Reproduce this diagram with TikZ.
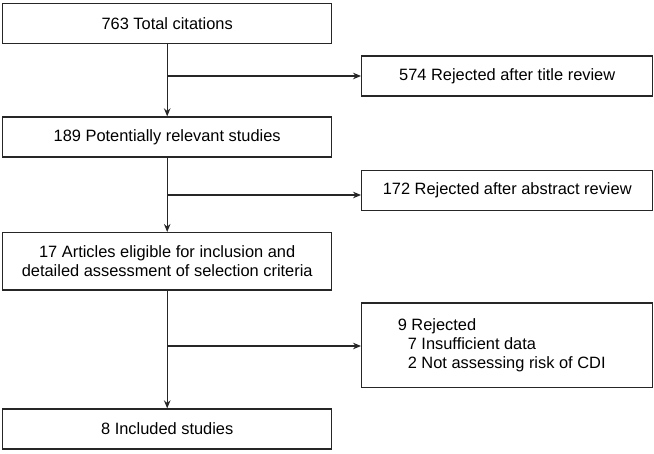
\documentclass[tikz,border=0pt]{standalone}
\usepackage{fontspec}
\setmainfont{Liberation Sans}
\usetikzlibrary{arrows.meta}
\begin{document}
\begin{tikzpicture}[x=1pt,y=-1pt,
  box/.style={draw=black!85,line width=1.3pt,inner sep=0pt,font=\fontsize{16.4}{18.5}\selectfont,align=center},
  mainbox/.style={box,minimum width=329pt,minimum height=40pt},
  sidebox/.style={box,minimum width=291pt,minimum height=40pt},
  conn/.style={draw=black!85,line width=1.3pt},
  arr/.style={conn,-{Stealth[length=8pt,width=6.5pt]}}]
\useasboundingbox (0,0) rectangle (654,453);
\node[mainbox] (b1) at (167.2,23.3) {763 Total citations};
\node[mainbox] (b2) at (167.2,137) {189 Potentially relevant studies};
\node[mainbox,minimum height=57.3pt] (b3) at (167.2,261.3) {17 Articles eligible for inclusion and\\detailed assessment of selection criteria};
\node[mainbox] (b4) at (167.2,429) {8 Included studies};
\node[sidebox] (r1) at (507.2,76) {574 Rejected after title review};
\node[sidebox] (r2) at (507.2,190.7) {172 Rejected after abstract review};
\node[sidebox,minimum height=84.7pt,align=left,font=\fontsize{16.4}{19}\selectfont] (r3) at (507.2,345.3) {9 Rejected\\\hspace*{10pt}7 Insufficient data\\\hspace*{10pt}2 Not assessing risk of CDI\hspace*{11pt}};
\coordinate (j1) at (167.2,76);
\coordinate (j2) at (167.2,195);
\coordinate (j3) at (167.2,346);
\draw[arr] (b1) -- (b2);
\draw[arr] (b2) -- (b3);
\draw[arr] (b3) -- (b4);
\draw[arr] (j1) -- (j1 -| r1.west);
\draw[arr] (j2) -- (j2 -| r2.west);
\draw[arr] (j3) -- (j3 -| r3.west);
\end{tikzpicture}
\end{document}
